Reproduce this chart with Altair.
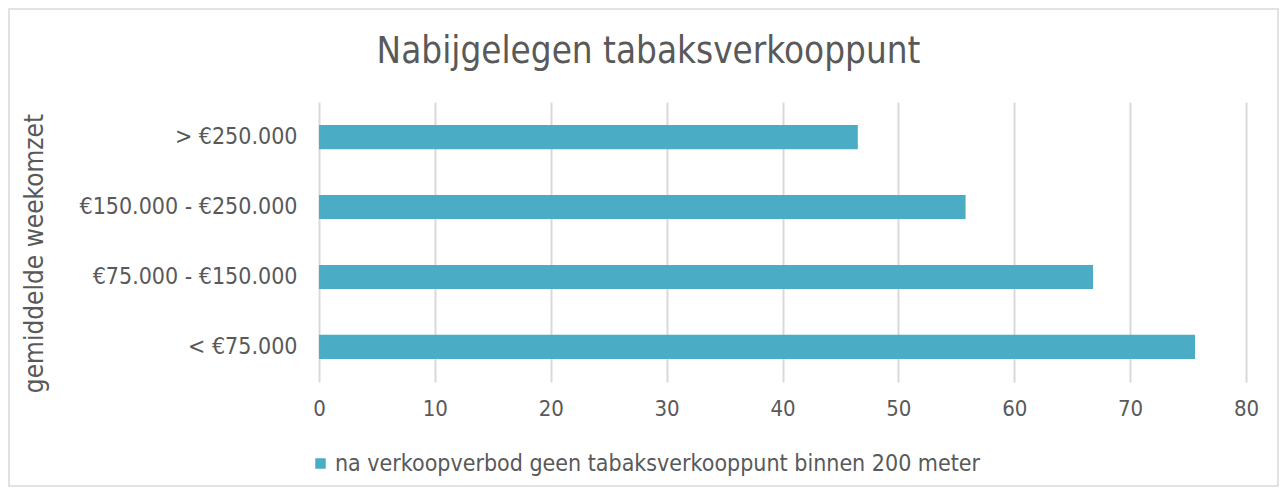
import altair as alt
import pandas as pd

categories = ["> €250.000", "€150.000 - €250.000", "€75.000 - €150.000", "< €75.000"]
values = [46.5, 55.8, 66.8, 75.6]
series = "na verkoopverbod geen tabaksverkooppunt binnen 200 meter"

df = pd.DataFrame({"cat": categories, "val": values, "series": [series] * len(categories)})

FONT = "DejaVu Sans Condensed"
TXT = "#595959"

W, H = 927, 280
PL, PT = 311, 94

frame = alt.Chart(pd.DataFrame({"a": [0]})).mark_rect(
    fill=None, stroke="#d9d9d9", strokeWidth=1.5
).encode(
    x=alt.value(-PL + 1), x2=alt.value(W + 32),
    y=alt.value(-PT + 1), y2=alt.value(H + 104),
)

bars = alt.Chart(df).mark_bar(color="#4BACC6").encode(
    y=alt.Y("cat:N", sort=categories,
            scale=alt.Scale(paddingInner=0.655, paddingOuter=0.33),
            axis=alt.Axis(title="gemiddelde weekomzet", domain=False, ticks=False,
                          labelFont=FONT, labelFontSize=23, labelColor=TXT, labelPadding=22,
                          labelLimit=400,
                          titleFont=FONT, titleFontSize=26, titleFontWeight="normal",
                          titleColor=TXT, titleX=-285, titleY=151, titleAngle=270,
                          titleAlign="center", titleBaseline="middle")),
    x=alt.X("val:Q", scale=alt.Scale(domain=[0, 80]),
            axis=alt.Axis(title=None, values=list(range(0, 81, 10)), domain=False, ticks=False,
                          grid=True, gridColor="#d9d9d9", gridWidth=2, labelFlush=False,
                          labelFont=FONT, labelFontSize=22, labelColor=TXT, labelPadding=16)),
    color=alt.Color("series:N", scale=alt.Scale(range=["#4BACC6"]),
                    legend=alt.Legend(title=None, orient="none", legendX=-10, legendY=350,
                                      symbolType="square", symbolSize=110, symbolStrokeWidth=0,
                                      labelFont=FONT, labelFontSize=23, labelColor=TXT,
                                      labelOffset=3, labelLimit=900)),
)

chart = alt.layer(frame, bars).properties(
    width=W, height=H,
    padding={"left": PL, "top": PT, "right": 34, "bottom": 106},
    autosize=alt.AutoSizeParams(type="none"),
    title=alt.TitleParams("Nabijgelegen tabaksverkooppunt", font=FONT, fontSize=36.5,
                          fontWeight="normal", color=TXT, anchor="middle",
                          dx=-134, offset=-62),
).configure_view(stroke=None)

chart.save("out.html", embed_options={"renderer": "svg", "actions": False})
